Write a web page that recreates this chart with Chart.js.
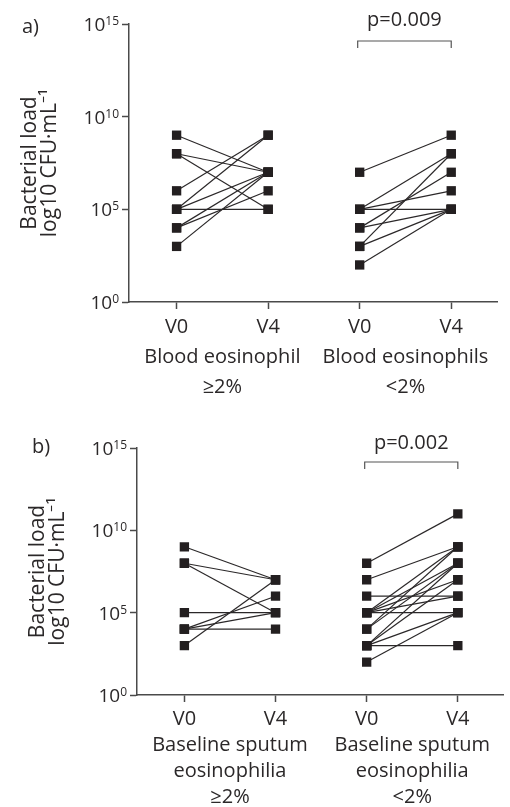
<!DOCTYPE html>
<html>
<head>
<meta charset="utf-8">
<script src="https://cdn.jsdelivr.net/npm/chart.js@4.4.1/dist/chart.umd.min.js"></script>
<style>
  html, body { margin: 0; padding: 0; background: #fff; }
  #wrap { position: relative; width: 510px; height: 807px; }
  canvas { position: absolute; left: 0; }
</style>
</head>
<body>
<div id="wrap">
  <canvas id="chartA" width="510" height="400" style="top:0"></canvas>
  <canvas id="chartB" width="510" height="407" style="top:400px"></canvas>
</div>
<script>
// bacterial load, CFU/mL, one entry per subject (V0 paired with V4)
const bloodHighV0 = [1e9, 1e8, 1e8, 1e6, 1e5, 1e5, 1e5, 1e4, 1e4, 1e3];
const bloodHighV4 = [1e7, 1e7, 1e5, 1e9, 1e9, 1e7, 1e5, 1e7, 1e6, 1e7];
const bloodLowV0 = [1e7, 1e5, 1e5, 1e5, 1e4, 1e4, 1e3, 1e3, 1e2];
const bloodLowV4 = [1e9, 1e8, 1e6, 1e5, 1e7, 1e5, 1e8, 1e5, 1e5];

const sputumHighV0 = [1e9, 1e8, 1e8, 1e5, 1e4, 1e4, 1e4, 1e3];
const sputumHighV4 = [1e7, 1e7, 1e5, 1e5, 1e6, 1e5, 1e4, 1e7];
const sputumLowV0 = [1e8, 1e7, 1e6, 1e5, 1e5, 1e5, 1e5, 1e5, 1e4, 1e4, 1e3, 1e3, 1e3, 1e3, 1e2];
const sputumLowV4 = [1e11, 1e9, 1e6, 1e9, 1e8, 1e7, 1e6, 1e5, 1e9, 1e8, 1e8, 1e7, 1e5, 1e3, 1e5];

const yTickPowers = [0, 5, 10, 15];
const xTickPositions = [1, 1.5, 2, 3, 3.5, 4];
const xLabelsA = ['V0', ['', 'Blood eosinophil', '≥2%'], 'V4', 'V0', ['', 'Blood eosinophils', '<2%'], 'V4'];
const xLabelsB = ['V0', ['', 'Baseline sputum', 'eosinophilia', '≥2%'], 'V4', 'V0', ['', 'Baseline sputum', 'eosinophilia', '<2%'], 'V4'];
const yTitle = ['Bacterial load', 'log10 CFU·mL⁻¹'];

const INK = '#2b2829';
const AXIS = '#4a4a4a';
const FONT = '"Open Sans"';

const pairDatasets = (v0, v4, xStart) => v0.map((val, i) => ({
  data: [{ x: xStart, y: val }, { x: xStart + 1, y: v4[i] }],
  borderColor: INK,
  borderWidth: 1.2,
  pointStyle: 'rect',
  pointRadius: 6.6,
  pointBorderWidth: 0,
  pointBackgroundColor: '#231f20',
  showLine: true,
}));

const decorations = {
  id: 'decorations',
  afterDraw(chart, args, opts) {
    const { ctx, scales: { x, y } } = chart;
    ctx.save();
    ctx.fillStyle = INK;
    ctx.textBaseline = 'alphabetic';
    ctx.textAlign = 'right';
    yTickPowers.forEach(p => {
      const py = y.getPixelForValue(Math.pow(10, p));
      const right = y.right - 10;
      ctx.font = `12px ${FONT}`;
      const ew = ctx.measureText(String(p)).width;
      ctx.fillText(String(p), right, py + 1);
      ctx.font = `19px ${FONT}`;
      ctx.fillText('10', right - ew, py + 7);
    });

    ctx.textAlign = 'left';
    ctx.textBaseline = 'middle';
    ctx.font = `20px ${FONT}`;
    ctx.fillText(opts.letter, opts.letterX, opts.letterY);

    const x1 = x.getPixelForValue(3) - 2;
    const x2 = x.getPixelForValue(4);
    ctx.strokeStyle = '#555';
    ctx.lineWidth = 1.2;
    ctx.beginPath();
    ctx.moveTo(x1, opts.bracketY + 7);
    ctx.lineTo(x1, opts.bracketY);
    ctx.lineTo(x2, opts.bracketY);
    ctx.lineTo(x2, opts.bracketY + 7);
    ctx.stroke();
    ctx.textAlign = 'center';
    ctx.fillText(opts.pText, (x1 + x2) / 2, opts.pY);
    ctx.restore();
  }
};

const makeChart = (id, datasets, xLabels, cfg) => new Chart(document.getElementById(id), {
  type: 'scatter',
  data: { datasets },
  options: {
    responsive: false,
    animation: false,
    layout: { padding: { left: 0, top: cfg.top, right: cfg.right, bottom: 0 } },
    plugins: {
      legend: { display: false },
      tooltip: { enabled: false },
      decorations: cfg.deco,
    },
    scales: {
      x: {
        type: 'linear',
        min: 0.48,
        max: 4.5,
        afterBuildTicks: s => { s.ticks = xTickPositions.map(v => ({ value: v })); },
        afterFit: s => { s.height = cfg.xHeight; },
        ticks: {
          autoSkip: false,
          maxRotation: 0,
          padding: cfg.tickPad,
          color: INK,
          font: { family: FONT, size: 20, lineHeight: cfg.lineHeight / 20 },
          callback: (v, i) => xLabels[i],
        },
        grid: {
          drawOnChartArea: false,
          tickLength: 7,
          tickWidth: 1.5,
          tickColor: c => Number.isInteger(c.tick.value) ? AXIS : 'rgba(0,0,0,0)',
        },
        border: { color: AXIS, width: 1.5 },
      },
      y: {
        type: 'logarithmic',
        min: 1,
        max: 1e15,
        afterBuildTicks: s => { s.ticks = yTickPowers.map(p => ({ value: Math.pow(10, p) })); },
        afterFit: s => { s.width = cfg.yWidth; },
        ticks: { callback: () => '' },
        grid: { drawOnChartArea: false, tickLength: 7, tickWidth: 1.5, tickColor: AXIS },
        border: { color: AXIS, width: 1.5 },
        title: {
          display: true,
          text: yTitle,
          color: INK,
          font: { family: FONT, size: 21, lineHeight: 0.95 },
          padding: { top: cfg.titlePad, bottom: 0 },
        },
      },
    },
  },
  plugins: [decorations],
});

makeChart('chartA',
  [...pairDatasets(bloodHighV0, bloodHighV4, 1), ...pairDatasets(bloodLowV0, bloodLowV4, 3)],
  xLabelsA,
  { top: 24, right: 13, xHeight: 98, yWidth: 129, tickPad: 3, lineHeight: 30, titlePad: 20,
    deco: { letter: 'a)', letterX: 22, letterY: 27, pText: 'p=0.009', pY: 20, bracketY: 41 } });

makeChart('chartB',
  [...pairDatasets(sputumHighV0, sputumHighV4, 1), ...pairDatasets(sputumLowV0, sputumLowV4, 3)],
  xLabelsB,
  { top: 48, right: 3, xHeight: 112, yWidth: 137, tickPad: 4, lineHeight: 26, titlePad: 28,
    deco: { letter: 'b)', letterX: 32, letterY: 47, pText: 'p=0.002', pY: 43, bracketY: 62 } });
</script>
</body>
</html>
